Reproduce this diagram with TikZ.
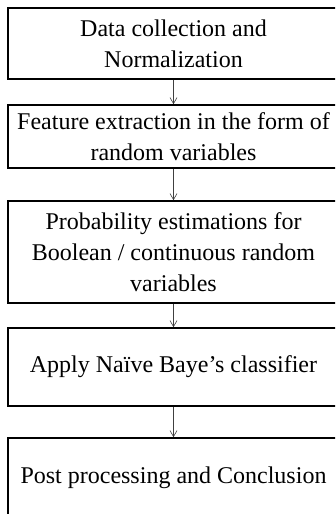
\documentclass[tikz,border=0pt]{standalone}
\usepackage{fontspec}
\setmainfont{Liberation Serif}
\usetikzlibrary{arrows.meta}

\begin{document}
\begin{tikzpicture}[x=1pt,y=-1pt]

    % let's define some key values
    \def\xbox{173.5}
    \def\boxwidth{331}

    % Styles
    \tikzstyle{stage}=[draw, line width=1.6pt, rectangle, align=center,
        minimum width=\boxwidth pt, inner sep=0pt,
        font=\fontsize{24}{31}\selectfont]
    \tikzstyle{flow}=[-{Straight Barb[length=6pt,width=7pt]}, line width=0.6pt,
        draw=black!75]

    % picture frame
    \clip (0,0) rectangle (335,514);
    \fill[white] (0,0) rectangle (335,514);

    % stages of the method
    \node[stage, minimum height=71pt] (collect) at (\xbox,43.5)
        {Data collection and\\Normalization};
    \node[stage, minimum height=63pt] (features) at (\xbox,136.5)
        {Feature extraction in the form of\\random variables};
    \node[stage, minimum height=102pt] (estimate) at (\xbox,252)
        {Probability estimations for\\Boolean / continuous random\\variables};
    \node[stage, minimum height=78pt] (classify) at (\xbox,367)
        {Apply Naïve Baye’s classifier};
    \node[stage, minimum height=80pt] (conclude) at (\xbox,478)
        {Post processing and Conclusion};

    % arrows between stages
    \draw[flow] (collect) -- (features);
    \draw[flow] (features) -- (estimate);
    \draw[flow] (estimate) -- (classify);
    \draw[flow] (classify) -- (conclude);

\end{tikzpicture}
\end{document}
